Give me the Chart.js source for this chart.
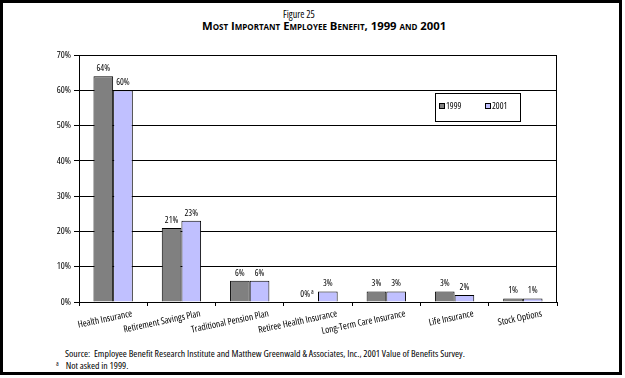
<!DOCTYPE html>
<html>
<head>
<meta charset="utf-8">
<script src="https://cdn.jsdelivr.net/npm/chart.js@4/dist/chart.umd.min.js"></script>
<style>
  html, body { margin: 0; padding: 0; background: #fff; }
  #wrap { position: relative; width: 625px; height: 378px; overflow: hidden;
          font-family: 'Open Sans', sans-serif; font-stretch: condensed; color: #000; }
  #frame { position: absolute; left: 0; top: 0; width: 622px; height: 375px; box-sizing: border-box; border: 3px solid #000; }
  #fig { position: absolute; left: 283px; top: 8px; font-size: 10px; line-height: 12px; white-space: nowrap; }
  #title { position: absolute; left: 202px; top: 19px; font-size: 11.3px; line-height: 14px; font-weight: bold;
           font-stretch: normal; font-variant: small-caps; white-space: nowrap; }
  #src { position: absolute; left: 65px; top: 348px; font-size: 9.8px; line-height: 11px; white-space: nowrap; }
  #note { position: absolute; left: 56px; top: 358px; font-size: 9.8px; line-height: 11px; white-space: nowrap; }
  #note sup { font-size: 6.5px; vertical-align: 3px; margin-right: 7px; }
  canvas { position: absolute; left: 0; top: 0; }
</style>
</head>
<body>
<div id="wrap">
  <div id="frame"></div>
  <div id="fig">Figure 25</div>
  <div id="title">Most Important Employee Benefit, 1999 and 2001</div>
  <div id="src">Source:&nbsp; Employee Benefit Research Institute and Matthew Greenwald &amp; Associates, Inc., 2001 Value of Benefits Survey.</div>
  <div id="note"><sup>a</sup>Not asked in 1999.</div>
  <canvas id="c" width="625" height="378"></canvas>
</div>
<script>
// ---- data ----
const categories = ['Health Insurance', 'Retirement Savings Plan', 'Traditional Pension Plan',
  'Retiree Health Insurance', 'Long-Term Care Insurance', 'Life Insurance', 'Stock Options'];
const seriesNames = ['1999', '2001'];
const values1999 = [64, 21, 6, 0, 3, 3, 1];
const values2001 = [60, 23, 6, 3, 3, 2, 1];
const notes1999 = ['', '', '', 'a', '', '', ''];
const notes2001 = ['', '', '', '', '', '', ''];
const yTicks = [0, 10, 20, 30, 40, 50, 60, 70];

const FONT = "'Open Sans', sans-serif";
Chart.defaults.font.family = FONT;
Chart.defaults.color = '#000';

// make every canvas text condensed (font-stretch) like the reference's narrow face
const canvas = document.getElementById('c');
const ctx0 = canvas.getContext('2d');
const fontDesc = Object.getOwnPropertyDescriptor(CanvasRenderingContext2D.prototype, 'font');
Object.defineProperty(ctx0, 'font', {
  configurable: true,
  get() { return fontDesc.get.call(this); },
  set(v) { fontDesc.set.call(this, v); try { this.fontStretch = 'condensed'; } catch (e) {} }
});

const notesBySeries = [notes1999, notes2001];

const valueLabels = {
  id: 'valueLabels',
  afterDatasetsDraw(chart) {
    const ctx = chart.ctx;
    ctx.save();
    ctx.fillStyle = '#000';
    ctx.textBaseline = 'alphabetic';
    chart.data.datasets.forEach((ds, di) => {
      const meta = chart.getDatasetMeta(di);
      meta.data.forEach((bar, i) => {
        const txt = ds.data[i] + '%';
        const note = notesBySeries[di][i];
        ctx.font = '9px ' + FONT;
        const w = ctx.measureText(txt).width;
        const x = bar.x;
        const y = bar.y - 5;
        if (note) {
          ctx.textAlign = 'right';
          ctx.fillText(txt, x + w / 2 - 3, y);
          ctx.font = '6.5px ' + FONT;
          ctx.textAlign = 'left';
          ctx.fillText(note, x + w / 2 - 2, y - 3);
        } else {
          ctx.textAlign = 'center';
          ctx.fillText(txt, x, y);
        }
      });
    });
    ctx.restore();
  }
};

const boxLegend = {
  id: 'boxLegend',
  afterDraw(chart) {
    const ctx = chart.ctx;
    const a = chart.chartArea;
    ctx.save();
    ctx.strokeStyle = '#000';
    ctx.lineWidth = 1;
    // plot area frame
    ctx.strokeRect(Math.round(a.left) + 0.5, Math.round(a.top) + 0.5,
                   Math.round(a.right - a.left) - 1, Math.round(a.bottom - a.top));
    // legend box
    const lx = 435, ly = 93, lw = 85, lh = 28;
    ctx.fillStyle = '#fff';
    ctx.fillRect(lx, ly, lw, lh);
    ctx.strokeRect(lx + 0.5, ly + 0.5, lw, lh);
    ctx.font = '9px ' + FONT;
    ctx.textBaseline = 'middle';
    ctx.textAlign = 'left';
    chart.data.datasets.forEach((ds, di) => {
      const sx = 439 + di * 46, sy = 103;
      ctx.fillStyle = ds.backgroundColor;
      ctx.fillRect(sx, sy, 6, 6);
      ctx.strokeRect(sx + 0.5, sy + 0.5, 5, 5);
      ctx.fillStyle = '#000';
      ctx.fillText(ds.label, sx + 7, sy + 3);
    });
    ctx.restore();
  }
};

new Chart(canvas, {
  type: 'bar',
  data: {
    labels: categories,
    datasets: [
      { label: seriesNames[0], data: values1999, backgroundColor: '#808080', borderColor: '#000', borderWidth: 1 },
      { label: seriesNames[1], data: values2001, backgroundColor: '#c0c0ff', borderColor: '#000', borderWidth: 1 }
    ]
  },
  options: {
    responsive: false,
    animation: false,
    devicePixelRatio: 1,
    layout: { padding: { left: 0, right: 68, top: 55, bottom: 0 } },
    plugins: { legend: { display: false }, tooltip: { enabled: false }, title: { display: false } },
    datasets: { bar: { barPercentage: 1.0, categoryPercentage: 0.576 } },
    scales: {
      x: {
        grid: { display: true, drawOnChartArea: false, drawTicks: true, tickLength: 4, color: '#000', offset: true },
        border: { display: true, color: '#000', width: 1 },
        ticks: { autoSkip: false, minRotation: 12, maxRotation: 12, labelOffset: 19, padding: 2,
                 font: { size: 9.5 }, color: '#000' },
        afterFit(s) { s.height = 76; }
      },
      y: {
        min: yTicks[0], max: yTicks[yTicks.length - 1],
        afterBuildTicks(s) { s.ticks = yTicks.map(v => ({ value: v })); },
        grid: { color: '#000', lineWidth: 1, drawTicks: true, tickLength: 5 },
        border: { display: true, color: '#000', width: 1 },
        ticks: { padding: 3, font: { size: 9.5 }, color: '#000', callback: v => v + '%' },
        afterFit(s) { s.width = 79; }
      }
    }
  },
  plugins: [valueLabels, boxLegend]
});
</script>
</body>
</html>
